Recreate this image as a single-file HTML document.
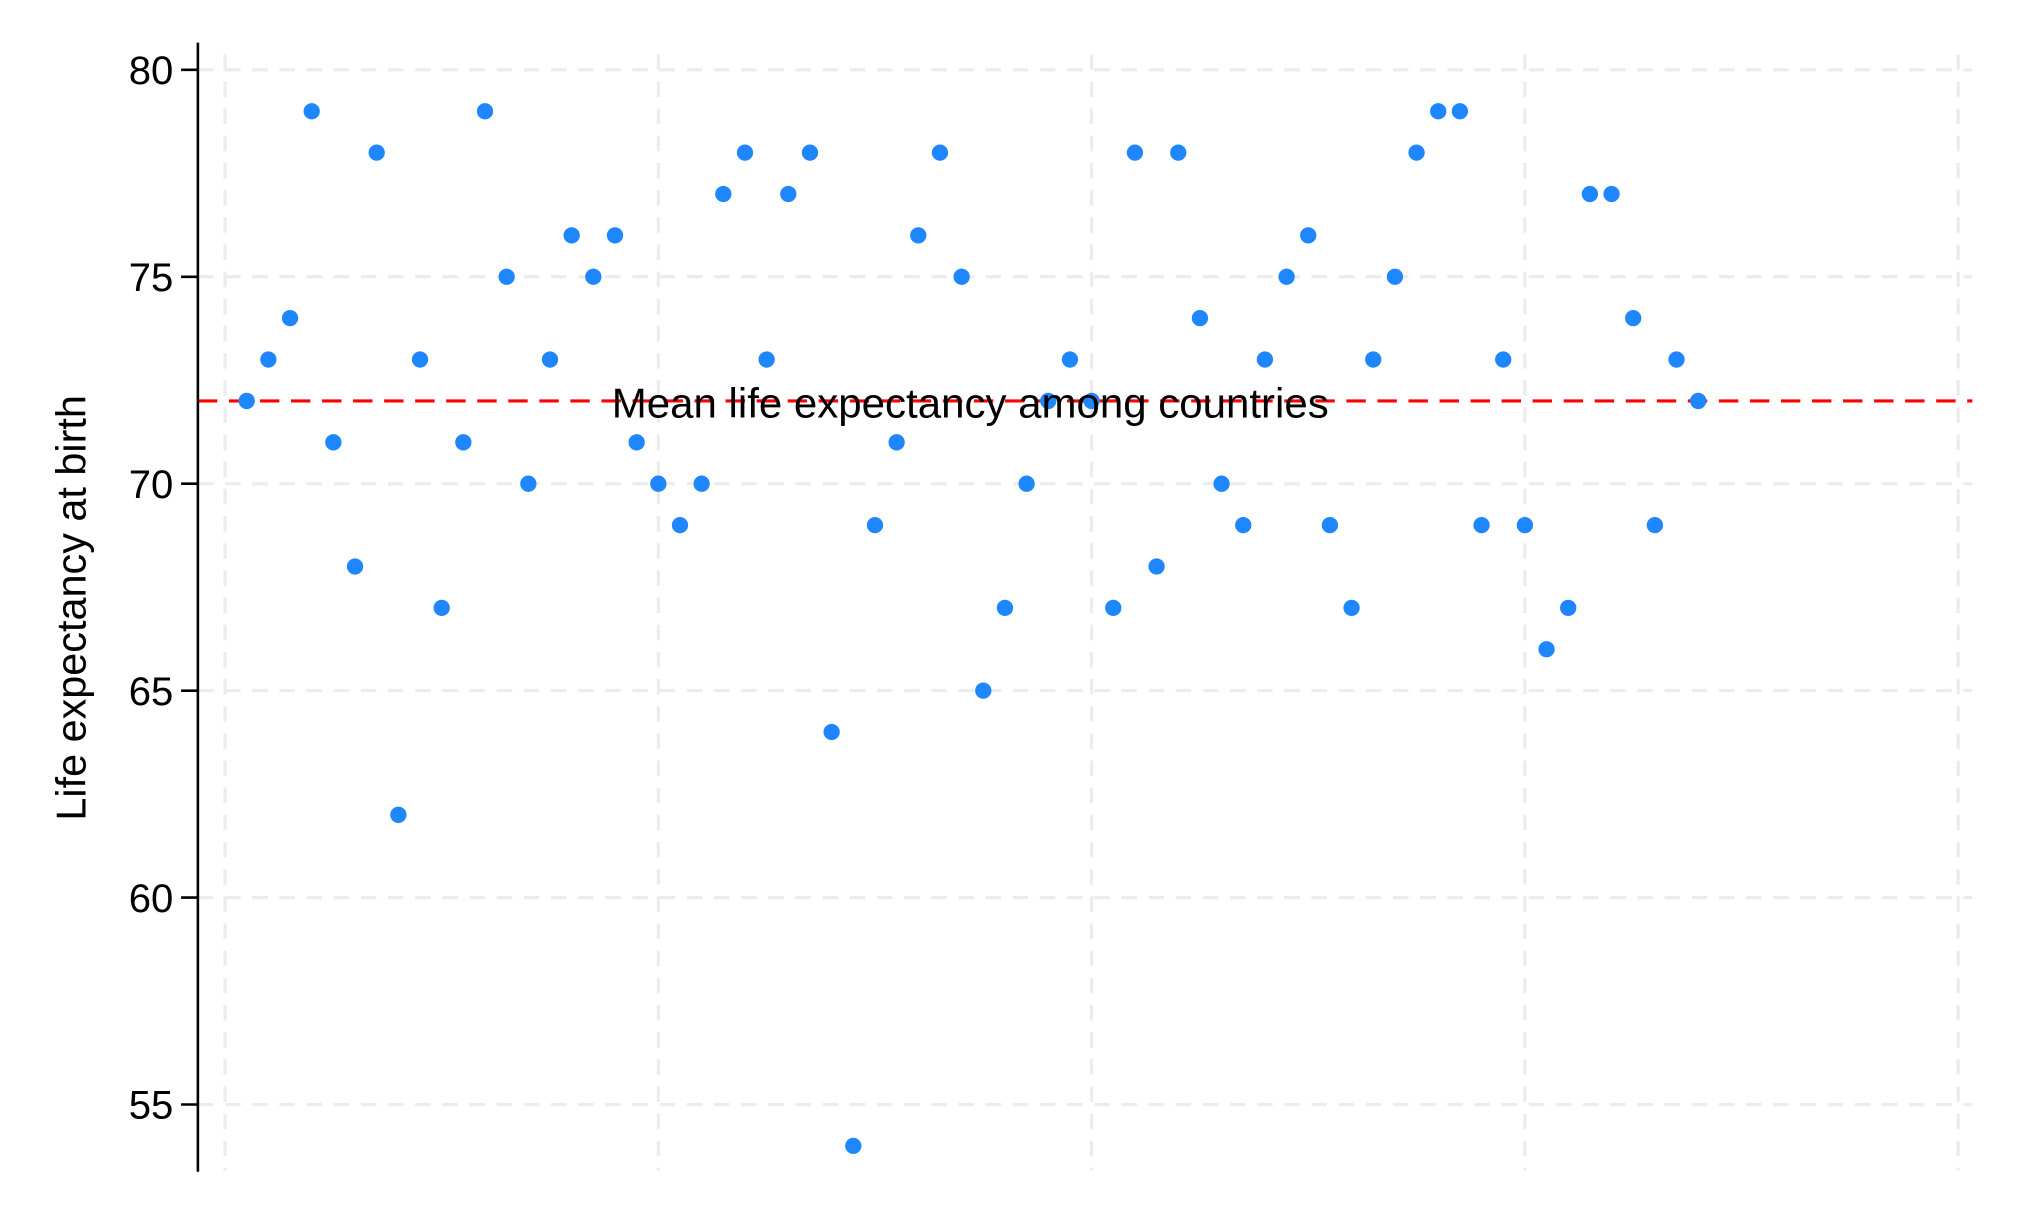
<!DOCTYPE html>
<html><head><meta charset="utf-8"><style>html,body{margin:0;padding:0;background:#fff}svg{display:block}</style></head>
<body>
<svg width="2028" height="1216" viewBox="0 0 1568 940.2" preserveAspectRatio="none" xmlns="http://www.w3.org/2000/svg" font-family="Liberation Sans, sans-serif">
<rect width="1568" height="940.2" fill="#fff"/>
<g stroke="#ececec" stroke-width="2.5" stroke-dasharray="12,9">
<line x1="153" y1="54" x2="1525" y2="54"/>
<line x1="153" y1="214" x2="1525" y2="214"/>
<line x1="153" y1="374" x2="1525" y2="374"/>
<line x1="153" y1="534" x2="1525" y2="534"/>
<line x1="153" y1="694" x2="1525" y2="694"/>
<line x1="153" y1="854" x2="1525" y2="854"/>
<line x1="174" y1="42" x2="174" y2="905"/>
<line x1="509" y1="42" x2="509" y2="905"/>
<line x1="844" y1="42" x2="844" y2="905"/>
<line x1="1179" y1="42" x2="1179" y2="905"/>
<line x1="1514" y1="42" x2="1514" y2="905"/>
</g>
<line x1="153" y1="310" x2="1525" y2="310" stroke="#ff0000" stroke-width="2.5" stroke-dasharray="15,9"/>
<line x1="153" y1="33" x2="153" y2="906" stroke="#000" stroke-width="2"/>
<g stroke="#000" stroke-width="2">
<line x1="140" y1="54" x2="153" y2="54"/><line x1="140" y1="214" x2="153" y2="214"/>
<line x1="140" y1="374" x2="153" y2="374"/><line x1="140" y1="534" x2="153" y2="534"/>
<line x1="140" y1="694" x2="153" y2="694"/><line x1="140" y1="854" x2="153" y2="854"/>
</g>
<g font-size="31" text-anchor="end" fill="#000">
<text x="134" y="65">80</text><text x="134" y="225">75</text><text x="134" y="385">70</text>
<text x="134" y="545">65</text><text x="134" y="705">60</text><text x="134" y="865">55</text>
</g>
<text transform="translate(66,470) rotate(-90)" font-size="32" text-anchor="middle">Life expectancy at birth</text>
<g fill="#1e87ff">
<circle cx="190.75" cy="310" r="6.3"/><circle cx="207.5" cy="278" r="6.3"/><circle cx="224.25" cy="246" r="6.3"/><circle cx="241" cy="86" r="6.3"/>
<circle cx="257.75" cy="342" r="6.3"/><circle cx="274.5" cy="438" r="6.3"/><circle cx="291.25" cy="118" r="6.3"/><circle cx="308" cy="630" r="6.3"/>
<circle cx="324.75" cy="278" r="6.3"/><circle cx="341.5" cy="470" r="6.3"/><circle cx="358.25" cy="342" r="6.3"/><circle cx="375" cy="86" r="6.3"/>
<circle cx="391.75" cy="214" r="6.3"/><circle cx="408.5" cy="374" r="6.3"/><circle cx="425.25" cy="278" r="6.3"/><circle cx="442" cy="182" r="6.3"/>
<circle cx="458.75" cy="214" r="6.3"/><circle cx="475.5" cy="182" r="6.3"/><circle cx="492.25" cy="342" r="6.3"/><circle cx="509" cy="374" r="6.3"/>
<circle cx="525.75" cy="406" r="6.3"/><circle cx="542.5" cy="374" r="6.3"/><circle cx="559.25" cy="150" r="6.3"/><circle cx="576" cy="118" r="6.3"/>
<circle cx="592.75" cy="278" r="6.3"/><circle cx="609.5" cy="150" r="6.3"/><circle cx="626.25" cy="118" r="6.3"/><circle cx="643" cy="566" r="6.3"/>
<circle cx="659.75" cy="886" r="6.3"/><circle cx="676.5" cy="406" r="6.3"/><circle cx="693.25" cy="342" r="6.3"/><circle cx="710" cy="182" r="6.3"/>
<circle cx="726.75" cy="118" r="6.3"/><circle cx="743.5" cy="214" r="6.3"/><circle cx="760.25" cy="534" r="6.3"/><circle cx="777" cy="470" r="6.3"/>
<circle cx="793.75" cy="374" r="6.3"/><circle cx="810.5" cy="310" r="6.3"/><circle cx="827.25" cy="278" r="6.3"/><circle cx="844" cy="310" r="6.3"/>
<circle cx="860.75" cy="470" r="6.3"/><circle cx="877.5" cy="118" r="6.3"/><circle cx="894.25" cy="438" r="6.3"/><circle cx="911" cy="118" r="6.3"/>
<circle cx="927.75" cy="246" r="6.3"/><circle cx="944.5" cy="374" r="6.3"/><circle cx="961.25" cy="406" r="6.3"/><circle cx="978" cy="278" r="6.3"/>
<circle cx="994.75" cy="214" r="6.3"/><circle cx="1011.5" cy="182" r="6.3"/><circle cx="1028.25" cy="406" r="6.3"/><circle cx="1045" cy="470" r="6.3"/>
<circle cx="1061.75" cy="278" r="6.3"/><circle cx="1078.5" cy="214" r="6.3"/><circle cx="1095.25" cy="118" r="6.3"/><circle cx="1112" cy="86" r="6.3"/>
<circle cx="1128.75" cy="86" r="6.3"/><circle cx="1145.5" cy="406" r="6.3"/><circle cx="1162.25" cy="278" r="6.3"/><circle cx="1179" cy="406" r="6.3"/>
<circle cx="1195.75" cy="502" r="6.3"/><circle cx="1212.5" cy="470" r="6.3"/><circle cx="1229.25" cy="150" r="6.3"/><circle cx="1246" cy="150" r="6.3"/>
<circle cx="1262.75" cy="246" r="6.3"/><circle cx="1279.5" cy="406" r="6.3"/><circle cx="1296.25" cy="278" r="6.3"/><circle cx="1313" cy="310" r="6.3"/>
</g>
<text x="473" y="323" font-size="32.5" fill="#000">Mean life expectancy among countries</text>
</svg>
</body></html>
